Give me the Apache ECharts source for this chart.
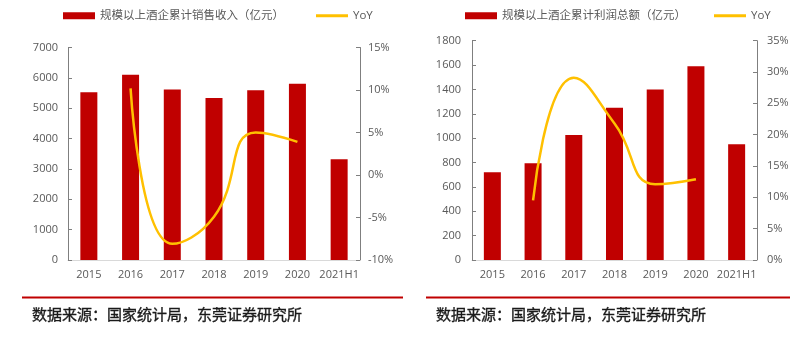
<!DOCTYPE html>
<html><head><meta charset="utf-8">
<script src="https://cdn.jsdelivr.net/npm/echarts@6/dist/echarts.min.js"></script>
<style>html,body{margin:0;padding:0;background:#fff}#c{width:803px;height:340px}</style>
</head><body><div id="c"></div>
<script>
const categories = ['2015','2016','2017','2018','2019','2020','2021H1'];
const revenue = [5530, 6105, 5620, 5335, 5590, 5805, 3320];
const revenueYoY = [null, 10.2, -8.1, -4.9, 5.0, 3.9, null];
const profit = [720, 795, 1025, 1250, 1400, 1590, 950];
const profitYoY = [null, 9.5, 29.1, 21.8, 12.1, 12.9, null];
const revenueName = '规模以上酒企累计销售收入（亿元）';
const profitName = '规模以上酒企累计利润总额（亿元）';
const yoyName = 'YoY';
const sourceText = '数据来源：国家统计局，东莞证券研究所';

const FONT = '"Open Sans","Noto Sans CJK SC",sans-serif';
const LBL = '#595959';
const AX = '#7f7f7f';
const RED = '#c00000';
const GOLD = '#ffc000';

function yAxis(grid, min, max, interval, pct, pos, margin) {
  return {
    type: 'value', gridIndex: grid, min, max, interval, position: pos,
    axisLine: {show: true, lineStyle: {color: AX, width: 1}},
    axisTick: {show: true, inside: true, length: 4, lineStyle: {color: AX}},
    splitLine: {show: false},
    axisLabel: {color: LBL, fontSize: 11, fontFamily: FONT, margin,
      formatter: v => pct ? v + '%' : String(v)}
  };
}
function xAxis(grid) {
  return {
    type: 'category', gridIndex: grid, data: categories,
    axisLine: {show: true, lineStyle: {color: '#d9d9d9', width: 1}},
    axisTick: {show: false},
    axisLabel: {color: LBL, fontSize: 11, fontFamily: FONT, margin: 9, interval: 0}
  };
}
function legend(left, name, h, top) {
  return {
    left, top, itemWidth: 32, itemHeight: h, padding: 0,
    data: [{name, icon: 'rect'}],
    textStyle: {color: LBL, fontSize: 11.5, fontFamily: FONT}
  };
}

const chart = echarts.init(document.getElementById('c'), null, {renderer: 'canvas'});
chart.setOption({
  animation: false,
  backgroundColor: '#fff',
  grid: [
    {left: 68, right: 443, top: 47.5, bottom: 80},
    {left: 472, right: 46, top: 40.7, bottom: 80}
  ],
  legend: [
    legend(63, revenueName, 7, 10),
    legend(316, yoyName, 3, 10),
    legend(465, profitName, 7, 10),
    legend(714, yoyName + ' ', 3, 10)
  ],
  xAxis: [xAxis(0), xAxis(1)],
  yAxis: [
    yAxis(0, 0, 7000, 1000, false, 'left', 10),
    yAxis(0, -10, 15, 5, true, 'right', 8),
    yAxis(1, 0, 1800, 200, false, 'left', 11),
    yAxis(1, 0, 35, 5, true, 'right', 10)
  ],
  series: [
    {name: revenueName, type: 'bar', xAxisIndex: 0, yAxisIndex: 0, data: revenue,
      barWidth: 17, itemStyle: {color: RED}},
    {name: yoyName, type: 'line', xAxisIndex: 0, yAxisIndex: 1, data: revenueYoY,
      smooth: 0.5, symbol: 'none', lineStyle: {color: GOLD, width: 2.5}, itemStyle: {color: GOLD}},
    {name: profitName, type: 'bar', xAxisIndex: 1, yAxisIndex: 2, data: profit,
      barWidth: 17, itemStyle: {color: RED}},
    {name: yoyName + ' ', type: 'line', xAxisIndex: 1, yAxisIndex: 3, data: profitYoY,
      smooth: 0.5, symbol: 'none', lineStyle: {color: GOLD, width: 2.5}, itemStyle: {color: GOLD}}
  ],
  graphic: [
    {type: 'rect', shape: {x: 22, y: 296.5, width: 381, height: 2}, style: {fill: RED}, silent: true},
    {type: 'rect', shape: {x: 426, y: 296.5, width: 364, height: 2}, style: {fill: RED}, silent: true},
    {type: 'text', x: 32, y: 314, style: {text: sourceText, fill: '#1a1a1a', stroke: '#1a1a1a', lineWidth: 0.35, font: '15px "Noto Sans CJK SC", sans-serif', verticalAlign: 'middle'}},
    {type: 'text', x: 436, y: 314, style: {text: sourceText, fill: '#1a1a1a', stroke: '#1a1a1a', lineWidth: 0.35, font: '15px "Noto Sans CJK SC", sans-serif', verticalAlign: 'middle'}}
  ]
});
</script></body></html>
